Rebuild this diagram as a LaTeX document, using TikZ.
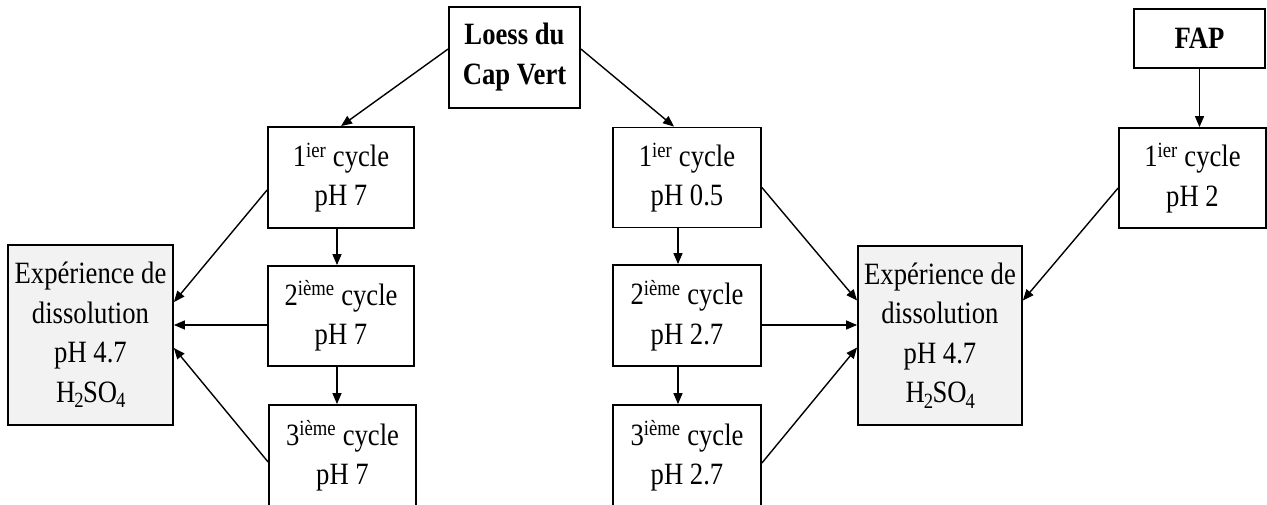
\documentclass[tikz,border=0pt]{standalone}
\usepackage{fontspec}
\setmainfont{Liberation Serif}[FakeStretch=0.86]
\usetikzlibrary{arrows.meta}
\definecolor{boxgray}{HTML}{F2F2F2}
\tikzset{
  box/.style={draw=black, line width=1.8pt, align=center, inner sep=0pt,
    font=\fontsize{31}{39.5}\selectfont},
  graybox/.style={box, fill=boxgray},
  conn/.style={line width=1.4pt, -{Triangle[length=11pt,width=9pt]}},
}
\newcommand{\supx}[1]{\textsuperscript{#1}}
\newcommand{\subx}[1]{\kern-1pt\textsubscript{#1}\kern-1pt}
\begin{document}
\begin{tikzpicture}[x=1pt,y=-1pt]
\useasboundingbox (0,0) rectangle (1267,504);
% nodes
\node[box, minimum width=131pt, minimum height=101pt, font=\fontsize{31}{40}\selectfont\bfseries] (loess) at (514.5,57.5) {Loess du\\Cap Vert};
\node[box, minimum width=131pt, minimum height=59pt, font=\fontsize{31}{40}\selectfont\bfseries] (fap) at (1199.5,38.5) {FAP};
\node[box, minimum width=146pt, minimum height=101pt] (c1a) at (341,177.5) {1\supx{ier} cycle\\pH 7};
\node[box, minimum width=146pt, minimum height=100pt] (c2a) at (341,316) {2\supx{ième} cycle\\pH 7};
\node[box, minimum width=147pt, minimum height=102pt] (c3a) at (342.5,456) {3\supx{ième} cycle\\pH 7};
\node[box, minimum width=148pt, minimum height=100pt] (c1b) at (687,177.5) {1\supx{ier} cycle\\pH 0.5};
\node[box, minimum width=148pt, minimum height=101pt] (c2b) at (687,315.5) {2\supx{ième} cycle\\pH 2.7};
\node[box, minimum width=148pt, minimum height=102pt] (c3b) at (687,456) {3\supx{ième} cycle\\pH 2.7};
\node[box, minimum width=147pt, minimum height=100pt] (c1c) at (1192.5,178) {1\supx{ier} cycle\\pH 2};
\node[graybox, minimum width=165pt, minimum height=180pt] (dissA) at (90.5,335) {Expérience de\\dissolution\\pH 4.7\\H\subx{2}SO\subx{4}};
\node[graybox, minimum width=164pt, minimum height=179pt] (dissB) at (940,335.5) {Expérience de\\dissolution\\pH 4.7\\H\subx{2}SO\subx{4}};
% connectors
\draw[conn] ([yshift=8.5pt]loess.west) -- (c1a.north);
\draw[conn] ([yshift=8.5pt]loess.east) -- ([xshift=-13pt]c1b.north);
\draw[conn] ([xshift=-4pt]c1a.south) -- ([xshift=-4pt]c2a.north);
\draw[conn] ([xshift=-4pt]c2a.south) -- ([xshift=-5.5pt]c3a.north);
\draw[conn] ([xshift=-9pt]c1b.south) -- ([xshift=-9pt]c2b.north);
\draw[conn] ([xshift=-9pt]c2b.south) -- ([xshift=-9pt]c3b.north);
\draw[conn] ([yshift=-12.5pt]c1a.west) -- ([yshift=33pt]dissA.east);
\draw[conn] ([yshift=-9pt]c2a.west) -- ([yshift=-9pt]c2a.west -| dissA.east);
\draw[conn] ([yshift=-6pt]c3a.west) -- ([yshift=-13pt]dissA.east);
\draw[conn] ([yshift=-10pt]c1b.east) -- ([yshift=35pt]dissB.west);
\draw[conn] ([yshift=-9.5pt]c2b.east) -- ([yshift=-9.5pt]c2b.east -| dissB.west);
\draw[conn] ([yshift=-7pt]c3b.east) -- ([yshift=-12pt]dissB.west);
\draw[conn] ([yshift=-10pt]c1c.west) -- ([yshift=35pt]dissB.east);
\draw[conn] (fap.south) -- (fap.south |- c1c.north);
\end{tikzpicture}
\end{document}
